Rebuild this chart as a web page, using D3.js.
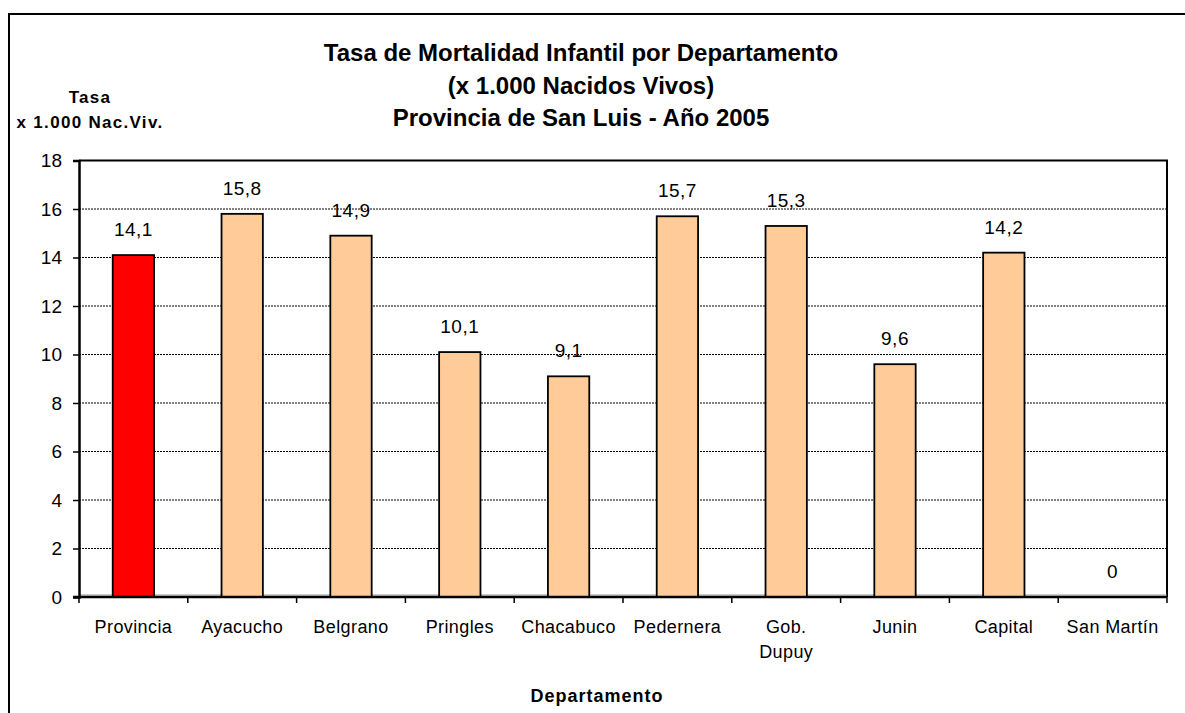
<!DOCTYPE html>
<html>
<head>
<meta charset="utf-8">
<script src="https://cdn.jsdelivr.net/npm/d3@7"></script>
<style>
  html, body { margin: 0; padding: 0; background: #fff; }
  svg { display: block; font-family: "Liberation Sans", Arial, sans-serif; }
</style>
</head>
<body>
<svg id="chart" width="1185" height="713"></svg>
<script>
// ---- data ----
const categories = ["Provincia", "Ayacucho", "Belgrano", "Pringles", "Chacabuco", "Pedernera", "Gob. Dupuy", "Junin", "Capital", "San Martín"];
const values = [14.1, 15.8, 14.9, 10.1, 9.1, 15.7, 15.3, 9.6, 14.2, 0];
const valueLabels = ["14,1", "15,8", "14,9", "10,1", "9,1", "15,7", "15,3", "9,6", "14,2", "0"];
const yTicks = [0, 2, 4, 6, 8, 10, 12, 14, 16, 18];
const titleLines = ["Tasa de Mortalidad Infantil por Departamento", "(x 1.000 Nacidos Vivos)", "Provincia de San Luis - Año 2005"];
const yTitleLines = ["Tasa", "x 1.000 Nac.Viv."];
const xTitle = "Departamento";

// ---- layout ----
const svg = d3.select("#chart");
const plot = { left: 79, right: 1167, top: 160.5, bottom: 597 };

const x = d3.scaleBand().domain(categories).range([plot.left, plot.right]).paddingInner(0.62).paddingOuter(0.31);
const xb = d3.scaleBand().domain(categories).range([plot.left, plot.right]);
const y = d3.scaleLinear().domain([0, 18]).range([plot.bottom, plot.top]);

// outer frame
svg.append("rect").attr("x", 9).attr("y", 14).attr("width", 1200).attr("height", 740)
  .attr("fill", "none").attr("stroke", "#000").attr("stroke-width", 2);

// gridlines
svg.append("g").selectAll("line").data(yTicks.filter(d => d > 0 && d < 18)).join("line")
  .attr("x1", plot.left).attr("x2", plot.right)
  .attr("y1", d => y(d)).attr("y2", d => y(d))
  .attr("stroke", "#000").attr("stroke-width", 1).attr("stroke-dasharray", "2,1");

// plot border (top/right)
svg.append("path")
  .attr("d", `M${plot.left},${plot.top}H${plot.right}V${plot.bottom}`)
  .attr("fill", "none").attr("stroke", "#000").attr("stroke-width", 2);
svg.append("line").attr("x1", plot.left).attr("x2", plot.right)
  .attr("y1", plot.bottom - 2).attr("y2", plot.bottom - 2)
  .attr("stroke", "#999").attr("stroke-width", 1);

// bars
svg.append("g").selectAll("rect").data(values).join("rect")
  .attr("x", (d, i) => x(categories[i]))
  .attr("width", x.bandwidth())
  .attr("y", d => y(d))
  .attr("height", d => y(0) - y(d))
  .attr("fill", (d, i) => i === 0 ? "#FF0000" : "#FFCC99")
  .attr("stroke", "#000").attr("stroke-width", 1.8);

// value labels
svg.append("g").selectAll("text").data(values).join("text")
  .attr("x", (d, i) => x(categories[i]) + x.bandwidth() / 2)
  .attr("y", d => y(d) - 19)
  .attr("text-anchor", "middle")
  .attr("font-size", 19).attr("letter-spacing", 0.5).attr("fill", "#000")
  .text((d, i) => valueLabels[i]);

// y axis
const yAxis = d3.axisLeft(y).tickValues(yTicks).tickSize(6).tickPadding(11).tickFormat(d3.format("d"));
const gy = svg.append("g").attr("transform", `translate(${plot.left},0)`).call(yAxis);
gy.select(".domain").attr("stroke", "#000").attr("stroke-width", 2.5);
gy.selectAll(".tick line").attr("stroke", "#000").attr("stroke-width", 1.5);
gy.selectAll(".tick text").attr("font-size", 19).attr("fill", "#000")
  .attr("font-family", "Liberation Sans, Arial, sans-serif");

// x axis: ticks at category boundaries
const boundaries = categories.map(c => xb(c)).concat([plot.right]);
svg.append("line").attr("x1", plot.left - 6).attr("x2", plot.right)
  .attr("y1", plot.bottom).attr("y2", plot.bottom)
  .attr("stroke", "#000").attr("stroke-width", 2.5);
svg.append("g").selectAll("line").data(boundaries).join("line")
  .attr("x1", d => d).attr("x2", d => d)
  .attr("y1", plot.bottom).attr("y2", plot.bottom + 6)
  .attr("stroke", "#000").attr("stroke-width", 1.5);

// category labels (wrap "Gob. Dupuy")
const catG = svg.append("g").selectAll("text").data(categories).join("text")
  .attr("x", d => xb(d) + xb.bandwidth() / 2)
  .attr("y", 633)
  .attr("text-anchor", "middle")
  .attr("font-size", 18).attr("letter-spacing", 0.4).attr("fill", "#000");
catG.each(function(d) {
  const parts = d === "Gob. Dupuy" ? ["Gob.", "Dupuy"] : [d];
  const t = d3.select(this);
  parts.forEach((p, k) => {
    t.append("tspan").attr("x", xb(d) + xb.bandwidth() / 2).attr("dy", k === 0 ? 0 : 25).text(p);
  });
});

// title
svg.append("g").selectAll("text").data(titleLines).join("text")
  .attr("x", 581).attr("y", (d, i) => 61 + i * 32.5)
  .attr("text-anchor", "middle").attr("font-weight", "bold").attr("font-size", 24)
  .text(d => d);

// y title
svg.append("g").selectAll("text").data(yTitleLines).join("text")
  .attr("x", 90).attr("y", (d, i) => 103 + i * 25)
  .attr("text-anchor", "middle").attr("font-weight", "bold").attr("font-size", 17)
  .attr("letter-spacing", 1.3)
  .text(d => d);

// x title
svg.append("text").attr("x", 597).attr("y", 702)
  .attr("text-anchor", "middle").attr("font-weight", "bold").attr("font-size", 18)
  .attr("letter-spacing", 1)
  .text(xTitle);
</script>
</body>
</html>
